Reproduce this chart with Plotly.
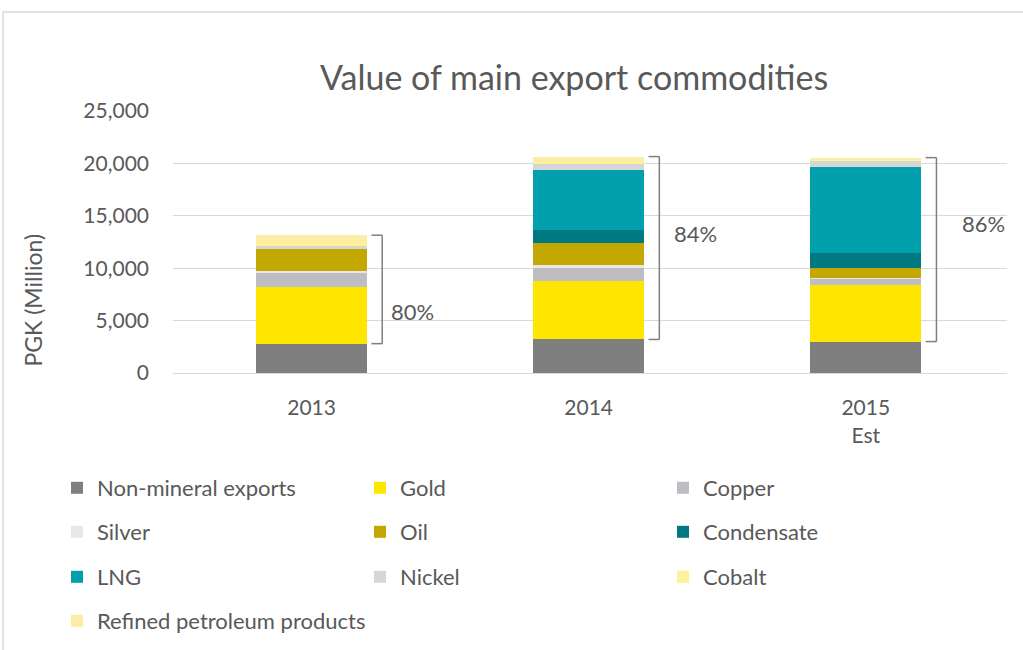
import plotly.graph_objects as go

# Export values, PGK million
years = ["2013", "2014", "2015<br>Est"]
non_mineral = [2800, 3200, 3000]
gold = [5400, 5600, 5400]
copper = [1300, 1200, 600]
silver = [250, 300, 100]
oil = [2050, 2100, 950]
condensate = [0, 1250, 1400]
lng = [0, 5750, 8200]
nickel = [300, 500, 600]
cobalt = [450, 350, 150]
refined = [600, 400, 150]

share_labels = ["80%", "84%", "86%"]
share_label_y = [5900, 13350, 14300]
share_label_dx = [0.28, 0.30, 0.34]

series = [
    ("Non-mineral exports", non_mineral, "#7f7f7f", "legend"),
    ("Gold", gold, "#ffe600", "legend"),
    ("Copper", copper, "#bdbdc3", "legend"),
    ("Silver", silver, "#e8e8e8", "legend2"),
    ("Oil", oil, "#c2a800", "legend2"),
    ("Condensate", condensate, "#007a80", "legend2"),
    ("LNG", lng, "#00a0ad", "legend3"),
    ("Nickel", nickel, "#d6d6d6", "legend3"),
    ("Cobalt", cobalt, "#fff09a", "legend3"),
    ("Refined petroleum products", refined, "#fbeca6", "legend4"),
]

FONT = "Lato"
GREY = "#595959"

fig = go.Figure()
for name, vals, color, lg in series:
    fig.add_trace(go.Bar(
        name=name, x=years, y=vals, marker=dict(color=color, line=dict(width=0)),
        legend=lg, hoverinfo="name+y",
    ))

# Brackets spanning the mineral & petroleum share of each bar
shapes = []
for i in range(len(years)):
    base = non_mineral[i]
    total = (non_mineral[i] + gold[i] + copper[i] + silver[i] + oil[i] + condensate[i]
             + lng[i] + nickel[i] + cobalt[i] + refined[i])
    xv, xt = i + 0.255, i + 0.216
    line = dict(color="#7f7f7f", width=1.5)
    shapes.append(dict(type="line", xref="x", yref="y", x0=xv, x1=xv, y0=base, y1=total, line=line))
    shapes.append(dict(type="line", xref="x", yref="y", x0=xt, x1=xv, y0=base, y1=base, line=line))
    shapes.append(dict(type="line", xref="x", yref="y", x0=xt, x1=xv, y0=total, y1=total, line=line))

# Chart frame
shapes.append(dict(type="rect", xref="paper", yref="paper", x0=-0.2038, x1=1.03, y0=-1.1, y1=1.378,
                   line=dict(color="#d9d9d9", width=1.5), fillcolor="rgba(0,0,0,0)", layer="below"))

annotations = []
for i, lab in enumerate(share_labels):
    annotations.append(dict(x=i + share_label_dx[i], y=share_label_y[i], xref="x", yref="y",
                            text=lab, showarrow=False, xanchor="left", yanchor="middle",
                            font=dict(family=FONT, size=22, color=GREY)))
annotations.append(dict(x=-0.168, y=0.28, xref="paper", yref="paper", text="PGK (Million)",
                        textangle=-90, showarrow=False, xanchor="center", yanchor="middle",
                        font=dict(family=FONT, size=23, color=GREY)))

def legend_row(ypix, width=258):
    return dict(orientation="h", x=(57 - 173) / 834, xanchor="left",
                y=(373 - ypix) / 262, yanchor="middle", entrywidth=width, entrywidthmode="pixels",
                font=dict(family=FONT, size=22, color=GREY), bgcolor="rgba(0,0,0,0)",
                traceorder="normal")

fig.update_layout(
    width=1023, height=650,
    margin=dict(l=173, r=16, t=111, b=277, autoexpand=False),
    paper_bgcolor="white", plot_bgcolor="white",
    barmode="stack", bargap=0.6,
    title=dict(text="Value of main export commodities", x=0.481, xref="paper", xanchor="center",
               y=(650 - 78) / 650, yanchor="middle",
               font=dict(family=FONT, size=34, color=GREY)),
    xaxis=dict(showgrid=False, showline=True, linecolor="#d9d9d9", linewidth=1, ticks="",
               ticklabelstandoff=16,
               tickfont=dict(family=FONT, size=21, color=GREY)),
    yaxis=dict(range=[0, 25000], dtick=5000, tickformat=",", showgrid=True, gridcolor="#d9d9d9",
               gridwidth=1, zeroline=False, ticks="", ticklabelstandoff=23,
               tickfont=dict(family=FONT, size=21, color=GREY)),
    legend=legend_row(488),
    legend2=legend_row(532),
    legend3=legend_row(577),
    legend4=legend_row(621, width=400),
    shapes=shapes,
    annotations=annotations,
    showlegend=True,
)

fig.write_html("out.html")
